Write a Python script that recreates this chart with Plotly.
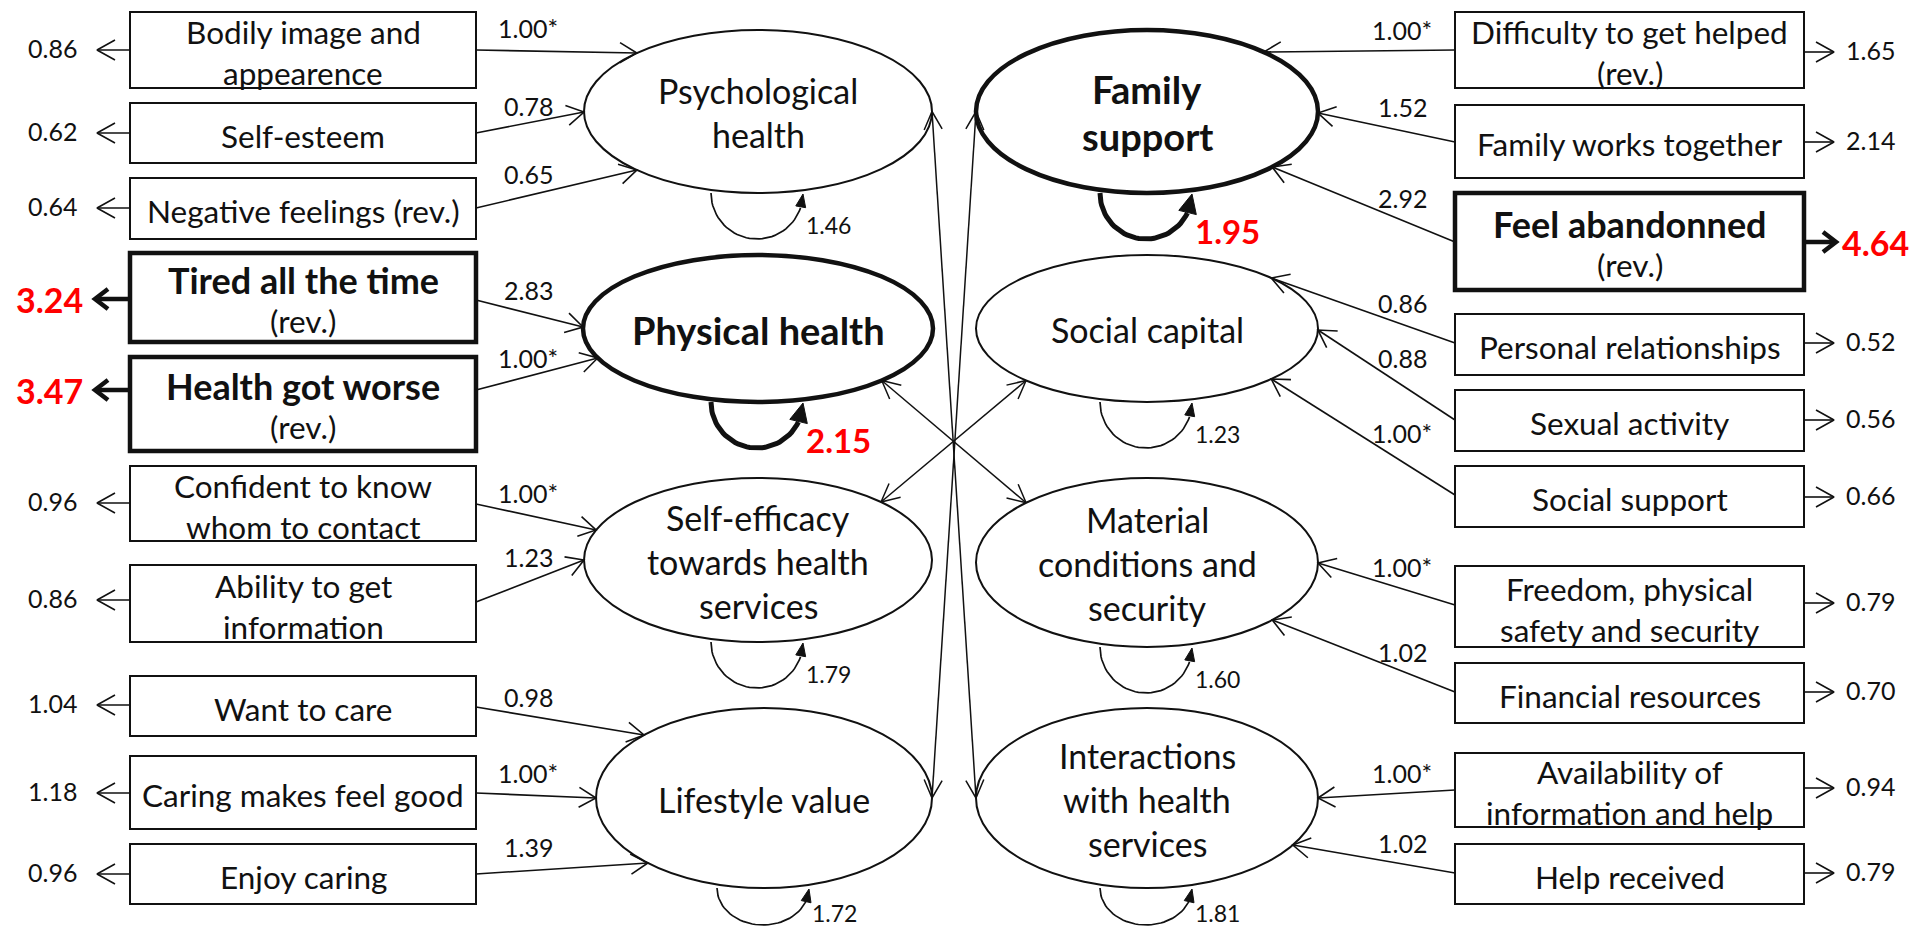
import math
import plotly.graph_objects as go

# the page body keeps its default 8px margin, so the figure is drawn 8px in
# from the window edge; coordinates below are window pixels (y pointing down)
W, H = 1919, 935
PAD = 8
FIG_W, FIG_H = W - 2 * PAD, H - 2 * PAD
FONT = "Lato"
INK = "#111111"
RED = "#ff0000"

# ── data ─────────────────────────────────────────────────────────────────────
LEFT_FACTORS = ["Psychological<br>health", "Physical health",
                "Self-efficacy<br>towards health<br>services", "Lifestyle value"]
LEFT_FACTOR_VAR = [1.46, 2.15, 1.79, 1.72]
LEFT_FACTOR_BOLD = [False, True, False, False]

RIGHT_FACTORS = ["Family<br>support", "Social capital",
                 "Material<br>conditions and<br>security",
                 "Interactions<br>with health<br>services"]
RIGHT_FACTOR_VAR = [1.95, 1.23, 1.60, 1.81]
RIGHT_FACTOR_BOLD = [True, False, False, False]

LEFT_ITEMS = ["Bodily image and<br>appearence", "Self-esteem", "Negative feelings (rev.)",
              "Tired all the time<br>(rev.)", "Health got worse<br>(rev.)",
              "Confident to know<br>whom to contact", "Ability to get<br>information",
              "Want to care", "Caring makes feel good", "Enjoy caring"]
LEFT_ITEM_FACTOR = [0, 0, 0, 1, 1, 2, 2, 3, 3, 3]
LEFT_LOADINGS = [1.00, 0.78, 0.65, 2.83, 1.00, 1.00, 1.23, 0.98, 1.00, 1.39]
LEFT_FIXED = [True, False, False, False, True, True, False, False, True, False]
LEFT_RESIDUALS = [0.86, 0.62, 0.64, 3.24, 3.47, 0.96, 0.86, 1.04, 1.18, 0.96]
LEFT_BOLD = [False, False, False, True, True, False, False, False, False, False]

RIGHT_ITEMS = ["Difficulty to get helped<br>(rev.)", "Family works together",
               "Feel abandonned<br>(rev.)", "Personal relationships", "Sexual activity",
               "Social support", "Freedom, physical<br>safety and security",
               "Financial resources", "Availability of<br>information and help",
               "Help received"]
RIGHT_ITEM_FACTOR = [0, 0, 0, 1, 1, 1, 2, 2, 3, 3]
RIGHT_LOADINGS = [1.00, 1.52, 2.92, 0.86, 0.88, 1.00, 1.00, 1.02, 1.00, 1.02]
RIGHT_FIXED = [True, False, False, False, False, True, True, False, True, False]
RIGHT_RESIDUALS = [1.65, 2.14, 4.64, 0.52, 0.56, 0.66, 0.79, 0.70, 0.94, 0.79]
RIGHT_BOLD = [False, False, True, False, False, False, False, False, False, False]

# covariances between factors
COVARIANCES = [("L", 0, "R", 3), ("R", 0, "L", 3), ("L", 1, "R", 2), ("L", 2, "R", 1)]

# ── layout ───────────────────────────────────────────────────────────────────
L_BOX_X = (130, 476)
R_BOX_X = (1455, 1804)
L_BOX_Y = [(12, 88), (103, 163), (178, 239), (253, 342), (357, 451),
           (466, 541), (565, 642), (676, 736), (756, 829), (844, 904)]
R_BOX_Y = [(12, 88), (105, 178), (193, 290), (314, 375), (390, 451),
           (466, 527), (566, 647), (663, 723), (753, 827), (844, 904)]
L_ELL = [(758, 111.5, 174, 81.5), (758, 328.5, 175, 73.5),
         (758, 560, 174, 82), (764, 798, 168, 90)]
R_ELL = [(1147, 111.5, 171, 81.5), (1147, 328.5, 171, 73.5),
         (1147, 562.5, 171, 84.5), (1147, 798, 171, 90)]
L_ARROW_Y0 = [50, 133, 208, 300, 390, 504, 602, 707, 793, 874]
L_ARROW_Y1 = [53, 112, 170, 327, 358, 530, 560, 735, 798, 863]
L_LABEL_Y = [28, 106, 174, 290, 358, 493, 557, 697, 773, 847]
L_RES_Y = [50, 133, 208, 299, 390, 503, 600, 705, 793, 874]
R_ARROW_Y0 = [50, 142, 242, 343, 420, 495, 605, 692, 790, 873]
R_ARROW_Y1 = [52, 113, 167, 278, 330, 379, 563, 620, 798, 845]
R_LABEL_Y = [30, 107, 198, 303, 358, 433, 567, 652, 773, 843]
R_RES_Y = [52, 142, 242, 343, 420, 497, 603, 692, 788, 873]
COV_ANGLES = [(0, 180), (180, 0), (45, 225), (-45, 135)]

BOX_FONT, BOX_BOLD_FONT = 31.5, 36
ELL_FONT, ELL_BOLD_FONT = 34, 38
NUM_FONT, LOOP_FONT, BIG_FONT, BIG_LOOP_FONT = 25, 23, 34, 33
BOTTOM = PAD + FIG_H  # lowest drawable pixel row

shapes, annotations = [], []
lines = {}


def seg(xs, ys, w):
    bx, by = lines.setdefault(w, ([], []))
    bx.extend(list(xs) + [None])
    by.extend(list(ys) + [None])


def head(x0, y0, x1, y1, w, length=17, half=10):
    d = math.hypot(x1 - x0, y1 - y0)
    ux, uy = (x1 - x0) / d, (y1 - y0) / d
    bx, by = x1 - ux * length, y1 - uy * length
    seg([bx - uy * half, x1, bx + uy * half], [by + ux * half, y1, by - ux * half], w)


def arrow(x0, y0, x1, y1, w=1.6, both=False, length=17, half=10):
    seg([x0, x1], [y0, y1], w)
    head(x0, y0, x1, y1, w, length, half)
    if both:
        head(x1, y1, x0, y0, w, length, half)


def text(x, y, s, size, bold=False, color=INK, anchor="center"):
    if bold:
        s = f"<b>{s}</b>"
    annotations.append(dict(x=x, y=y, text=s, showarrow=False, xanchor=anchor,
                            yanchor="middle",
                            font=dict(size=size, color=color, family=FONT)))


def block(cx, cy, label, size, spacing, bold, bold_size):
    rows = label.split("<br>")
    for i, r in enumerate(rows):
        y = cy + (i - (len(rows) - 1) / 2) * spacing
        b = bold and r != "(rev.)"
        text(cx, y, r, bold_size if b else size, b)


def ellipse_x_at(e, y, side):
    cx, cy, rx, ry = e
    k = max(0.0, 1 - ((y - cy) / ry) ** 2)
    return cx + side * rx * math.sqrt(k)


def ellipse_point(e, ang):
    cx, cy, rx, ry = e
    t = math.radians(ang)
    return cx + rx * math.cos(t), cy + ry * math.sin(t)


loops = []


def loop(e, value, bold):
    cx, cy, rx, ry = e
    yb = cy + ry
    a = 46
    b = min(46, BOTTOM - 2 - yb)
    w = 5 if bold else 1.7
    t_end = 0.45 if bold else 0.33
    ts = [math.pi - (math.pi - t_end) * i / 40 for i in range(41)]
    xs = [cx - 1 + a * math.cos(t) for t in ts]
    ys = [yb + b * math.sin(t) for t in ts]
    tx, ty = cx - 1 + a, yb + 1
    ux, uy = tx - xs[-1], ty - ys[-1]
    d = math.hypot(ux, uy)
    ux, uy = ux / d, uy / d
    L, hw = (19, 9) if bold else (13, 5)
    bx, by = tx - ux * L, ty - uy * L
    tri_x = [bx - uy * hw, tx, bx + uy * hw, bx - uy * hw]
    tri_y = [by + ux * hw, ty, by - ux * hw, by + ux * hw]
    loops.append((xs, ys, w, tri_x, tri_y))
    lab = f"{value:.2f}"
    if bold:
        text(cx + 46, yb + 38, lab, BIG_LOOP_FONT, True, RED, "left")
    else:
        text(cx + 46, min(yb + 32, BOTTOM - 14), lab, LOOP_FONT, False, INK, "left")


# factors
for ells, names, var, bolds in ((L_ELL, LEFT_FACTORS, LEFT_FACTOR_VAR, LEFT_FACTOR_BOLD),
                                (R_ELL, RIGHT_FACTORS, RIGHT_FACTOR_VAR, RIGHT_FACTOR_BOLD)):
    for e, name, v, b in zip(ells, names, var, bolds):
        cx, cy, rx, ry = e
        shapes.append(dict(type="circle", x0=cx - rx, x1=cx + rx, y0=cy - ry, y1=cy + ry,
                           line=dict(color=INK, width=4.5 if b else 2),
                           fillcolor="white", layer="below"))
        block(cx, cy + 1, name, ELL_FONT, 47 if b else 44, b, ELL_BOLD_FONT)
        loop(e, v, b)

# items, loadings and residuals
sides = (
    (L_BOX_X, L_BOX_Y, LEFT_ITEMS, LEFT_ITEM_FACTOR, LEFT_LOADINGS, LEFT_FIXED,
     LEFT_RESIDUALS, LEFT_BOLD, L_ELL, L_ARROW_Y0, L_ARROW_Y1, L_LABEL_Y, L_RES_Y, -1),
    (R_BOX_X, R_BOX_Y, RIGHT_ITEMS, RIGHT_ITEM_FACTOR, RIGHT_LOADINGS, RIGHT_FIXED,
     RIGHT_RESIDUALS, RIGHT_BOLD, R_ELL, R_ARROW_Y0, R_ARROW_Y1, R_LABEL_Y, R_RES_Y, 1),
)
for (bx, by, items, fac, load, fixed, res, bold, ells, ay0, ay1, ly, ry_, side) in sides:
    for i, name in enumerate(items):
        y0, y1 = by[i]
        shapes.append(dict(type="rect", x0=bx[0], x1=bx[1], y0=y0, y1=y1,
                           line=dict(color=INK, width=4.5 if bold[i] else 2),
                           fillcolor="white", layer="below"))
        block((bx[0] + bx[1]) / 2, (y0 + y1) / 2 + 2.5, name, BOX_FONT, 41,
              bold[i], BOX_BOLD_FONT)

        # loading arrow: from the box edge facing the centre to the factor
        e = ells[fac[i]]
        if side < 0:
            xs, xe, lx = bx[1], ellipse_x_at(e, ay1[i], -1), 528
        else:
            xs, xe, lx = bx[0], ellipse_x_at(e, ay1[i], 1), 1402
        arrow(xs, ay0[i], xe, ay1[i], 1.6)
        text(lx, ly[i], f"{load[i]:.2f}" + ("*" if fixed[i] else ""), NUM_FONT)

        # residual arrow on the outer side
        if side < 0:
            x0, x1 = bx[0], (95 if bold[i] else 97)
            tx, anchor = (85 if bold[i] else 79), "right"
        else:
            x0, x1 = bx[1], (1836 if bold[i] else 1834)
            tx, anchor = (1840 if bold[i] else 1844), "left"
        if bold[i]:
            arrow(x0, ry_[i], x1, ry_[i], 4.5, length=13, half=10)
            text(tx, ry_[i], f"{res[i]:.2f}", BIG_FONT, True, RED, anchor)
        else:
            arrow(x0, ry_[i], x1, ry_[i], 1.6, length=18, half=10)
            text(tx, ry_[i] - 2, f"{res[i]:.2f}", NUM_FONT, False, INK, anchor)

# covariances
for (sa, ia, sb, ib), (aa, ab) in zip(COVARIANCES, COV_ANGLES):
    ea = (L_ELL if sa == "L" else R_ELL)[ia]
    eb = (L_ELL if sb == "L" else R_ELL)[ib]
    xa, ya = ellipse_point(ea, aa)
    xb, yb = ellipse_point(eb, ab)
    arrow(xa, ya, xb, yb, 1.5, both=True, length=18, half=9)

fig = go.Figure()
for w, (xs, ys) in lines.items():
    fig.add_trace(go.Scatter(x=xs, y=ys, mode="lines", hoverinfo="skip",
                             line=dict(color=INK, width=w)))
for xs, ys, w, tx, ty in loops:
    fig.add_trace(go.Scatter(x=xs, y=ys, mode="lines", hoverinfo="skip",
                             line=dict(color=INK, width=w)))
    fig.add_trace(go.Scatter(x=tx, y=ty, mode="lines", fill="toself", fillcolor=INK,
                             hoverinfo="skip", line=dict(color=INK, width=1)))

fig.update_layout(
    width=FIG_W, height=FIG_H,
    margin=dict(l=0, r=0, t=0, b=0),
    paper_bgcolor="white", plot_bgcolor="white",
    showlegend=False,
    shapes=shapes, annotations=annotations,
    font=dict(family=FONT, color=INK),
)
fig.update_xaxes(range=[PAD, PAD + FIG_W], visible=False, fixedrange=True)
fig.update_yaxes(range=[PAD + FIG_H, PAD], visible=False, fixedrange=True)

fig.write_html("out.html")
